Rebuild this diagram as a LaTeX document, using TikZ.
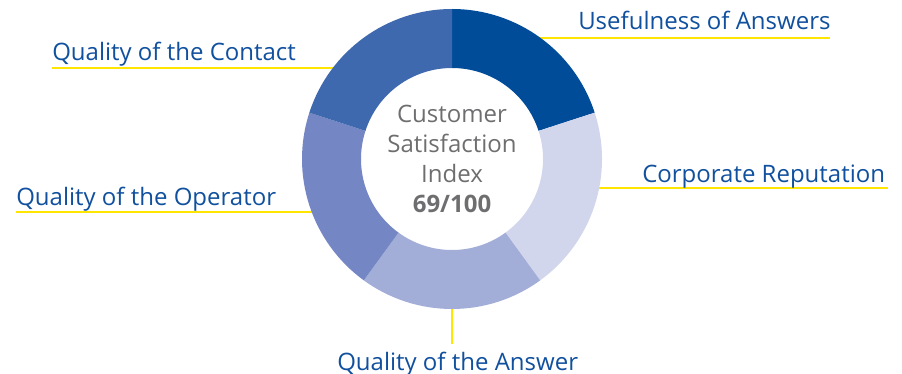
\documentclass[tikz,border=0pt]{standalone}
\usepackage{fontspec}
\setmainfont{Open Sans}
\usetikzlibrary{calc}

\definecolor{segUse}{RGB}{0,76,153}
\definecolor{segRep}{RGB}{209,214,236}
\definecolor{segAns}{RGB}{163,174,216}
\definecolor{segOpe}{RGB}{116,135,196}
\definecolor{segCon}{RGB}{63,105,174}
\definecolor{lblBlue}{RGB}{16,80,158}
\definecolor{idxGray}{RGB}{110,110,112}
\definecolor{leadYellow}{RGB}{255,229,0}

\tikzset{
  lbl/.style={text=lblBlue, inner sep=0pt, font=\fontsize{18}{22}\selectfont},
  lead/.style={draw=leadYellow, line width=2pt},
}

\begin{document}
\begin{tikzpicture}[x=0.75pt,y=0.75pt,yscale=-1,xscale=1]
\useasboundingbox (0,0) rectangle (902,374);

\coordinate (ctr) at (452,159);

%Leader lines, under the ring
\coordinate (use-a) at (540,38);   \coordinate (use-b) at (830,38);
\coordinate (rep-a) at (599,188);  \coordinate (rep-b) at (888,188);
\coordinate (con-a) at (52,68);    \coordinate (con-b) at (334,68);
\coordinate (ope-a) at (16,212);   \coordinate (ope-b) at (313,212);
\coordinate (ans-a) at (452,300);  \coordinate (ans-b) at (452,344);
\draw[lead] (use-a) -- (use-b);
\draw[lead] (rep-a) -- (rep-b);
\draw[lead] (con-a) -- (con-b);
\draw[lead] (ope-a) -- (ope-b);
\draw[lead] (ans-a) -- (ans-b);

%Ring segments
\foreach \a/\b/\c in {-90/-18/segUse, -18/54/segRep, 54/126/segAns, 126/198/segOpe, 198/270/segCon}
  \fill[\c] ($(ctr)+(\a:150)$) arc[start angle=\a, end angle=\b, radius=150]
    -- ($(ctr)+(\b:91)$) arc[start angle=\b, end angle=\a, radius=91] -- cycle;

% Text Node
\node (idx) at (ctr) [align=center, text=idxGray, font=\fontsize{18}{22.5}\selectfont]
  {Customer\\Satisfaction\\Index\\\textbf{69/100}};
% Text Node
\node (use) at (578,30) [lbl, anchor=base west] {Usefulness of Answers};
% Text Node
\node (rep) at (642,182) [lbl, anchor=base west] {Corporate Reputation};
% Text Node
\node (con) at (52,61) [lbl, anchor=base west] {Quality of the Contact};
% Text Node
\node (ope) at (16,205) [lbl, anchor=base west] {Quality of the Operator};
% Text Node
\node (ans) at (337,370) [lbl, anchor=base west] {Quality of the Answer};

\end{tikzpicture}
\end{document}
